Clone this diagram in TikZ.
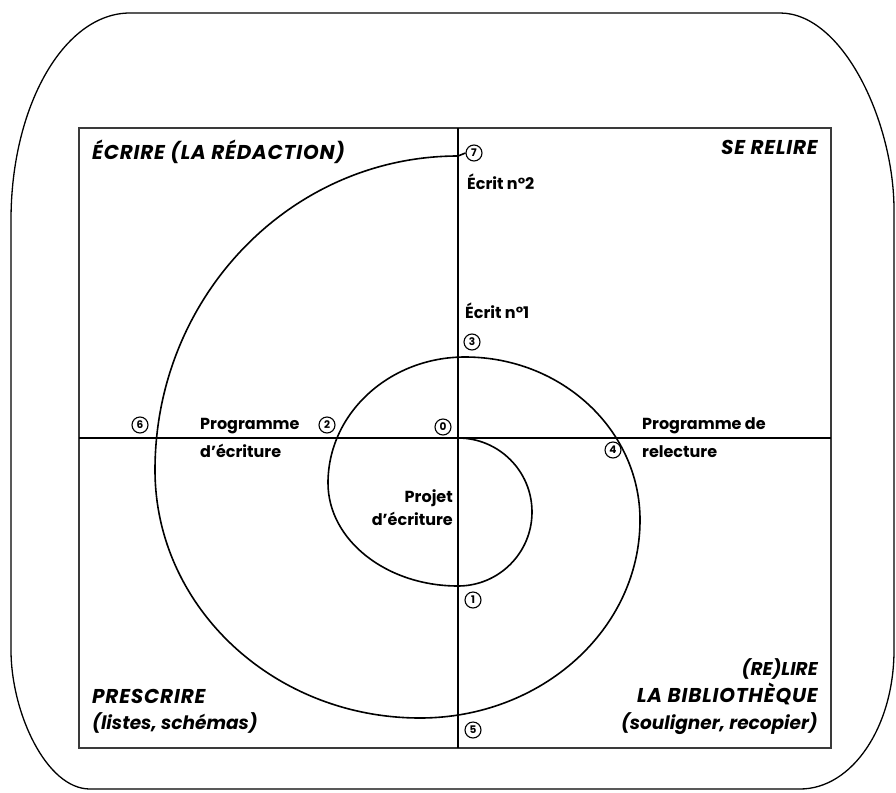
\documentclass[tikz,border=0pt]{standalone}
\usepackage{fontspec}
\setmainfont{Poppins}
\usetikzlibrary{positioning}
\definecolor{cornice}{HTML}{3A3A3A}
\tikzset{
  % cornice esterna arrotondata
  outer/.style={draw=black, line width=1.3pt},
  % riquadro e assi
  frame/.style={draw=cornice, line width=1.9pt},
  axis/.style={draw=black, line width=1.4pt},
  % spirale
  spiral/.style={draw=black, line width=1.6pt, line join=round},
  % tappe numerate
  stepnum/.style={circle, draw=black, line width=1.1pt, minimum size=16pt,
    inner sep=0pt, font=\fontsize{10.5}{10.5}\selectfont\bfseries},
  % titoli dei quadranti
  quad/.style={font=\fontsize{18.5}{22}\selectfont\bfseries\itshape, inner sep=0pt},
  quadcaps/.style={font=\fontsize{20}{22}\selectfont\bfseries\itshape
    \addfontfeature{LetterSpace=4}, inner sep=0pt},
  % etichette piccole
  lbl/.style={font=\fontsize{16}{18}\selectfont\bfseries, inner sep=0pt},
}

\begin{document}
\begin{tikzpicture}[x=1pt, y=-1pt]
  \useasboundingbox (0,0) rectangle (896,792);
  % cornice
  \draw[outer] (130,13) -- (780,13)
    .. controls (843,13) and (894,122) .. (894,210) -- (894,650)
    .. controls (894,727) and (852,789) .. (800,789) -- (90,789)
    .. controls (46,789) and (11,712) .. (11,650) -- (11,220)
    .. controls (11,106) and (64,13) .. (130,13) -- cycle;
  % riquadro
  \coordinate (tl) at (79,128);
  \coordinate (br) at (831,748);
  \coordinate (c) at (458,438);
  \draw[frame] (tl) rectangle (br);
  \draw[axis] (tl |- c) -- (br |- c);
  \draw[axis] (c |- tl) -- (c |- br);
  % tappe
  \node[stepnum] (n0) at (443,427) {0};
  \node[stepnum] (n1) at (473,600) {1};
  \node[stepnum] (n2) at (327,425) {2};
  \node[stepnum] (n3) at (472,342) {3};
  \node[stepnum] (n4) at (613,450) {4};
  \node[stepnum] (n5) at (473,730) {5};
  \node[stepnum] (n6) at (140,425) {6};
  \node[stepnum] (n7) at (474,153) {7};
  % spirale (quarti di ellisse)
  \draw[spiral] (c)
    arc[start angle=-90, end angle=90, radius=74]
    arc[start angle=90, end angle=180, x radius=130, y radius=103]
    arc[start angle=180, end angle=270, x radius=137, y radius=126]
    arc[start angle=270, end angle=360, x radius=175, y radius=163]
    arc[start angle=0, end angle=90, x radius=220, y radius=198]
    arc[start angle=90, end angle=180, x radius=265, y radius=248]
    arc[start angle=180, end angle=270, x radius=303, y radius=314]
    -- (n7.west);
  % testi
  \node[lbl, anchor=base west] (e2) at (467,189) {Écrit n°2};
  \node[lbl, anchor=base west] (e1) at (465,318) {Écrit n°1};
  \node[lbl, anchor=base west] (pe1) at (200,429) {Programme};
  \node[lbl, anchor=base west] (pe2) at (200,457) {d'écriture};
  \node[lbl, anchor=base west] (pr1) at (642,429) {Programme de};
  \node[lbl, anchor=base west] (pr2) at (642,457) {relecture};
  \node[lbl, anchor=base east] (pj1) at (453,502) {Projet};
  \node[lbl, anchor=base east] (pj2) at (453,525) {d'écriture};
  \node[quadcaps, anchor=base west] (ecr) at (92,159) {ÉCRIRE (LA RÉDACTION)};
  \node[quadcaps, anchor=base east] (rel) at (818,154) {SE RELIRE};
  \node[quadcaps, anchor=base west] (pre1) at (92,703) {PRESCRIRE};
  \node[quad, anchor=base west] (pre2) at (92,729) {(listes, schémas)};
  \node[quad, anchor=base east] (bib1) at (818,675) {(RE)LIRE};
  \node[quadcaps, anchor=base east] (bib2) at (818,702) {LA BIBLIOTHÈQUE};
  \node[quad, anchor=base east] (bib3) at (818,729) {(souligner, recopier)};
\end{tikzpicture}
\end{document}
